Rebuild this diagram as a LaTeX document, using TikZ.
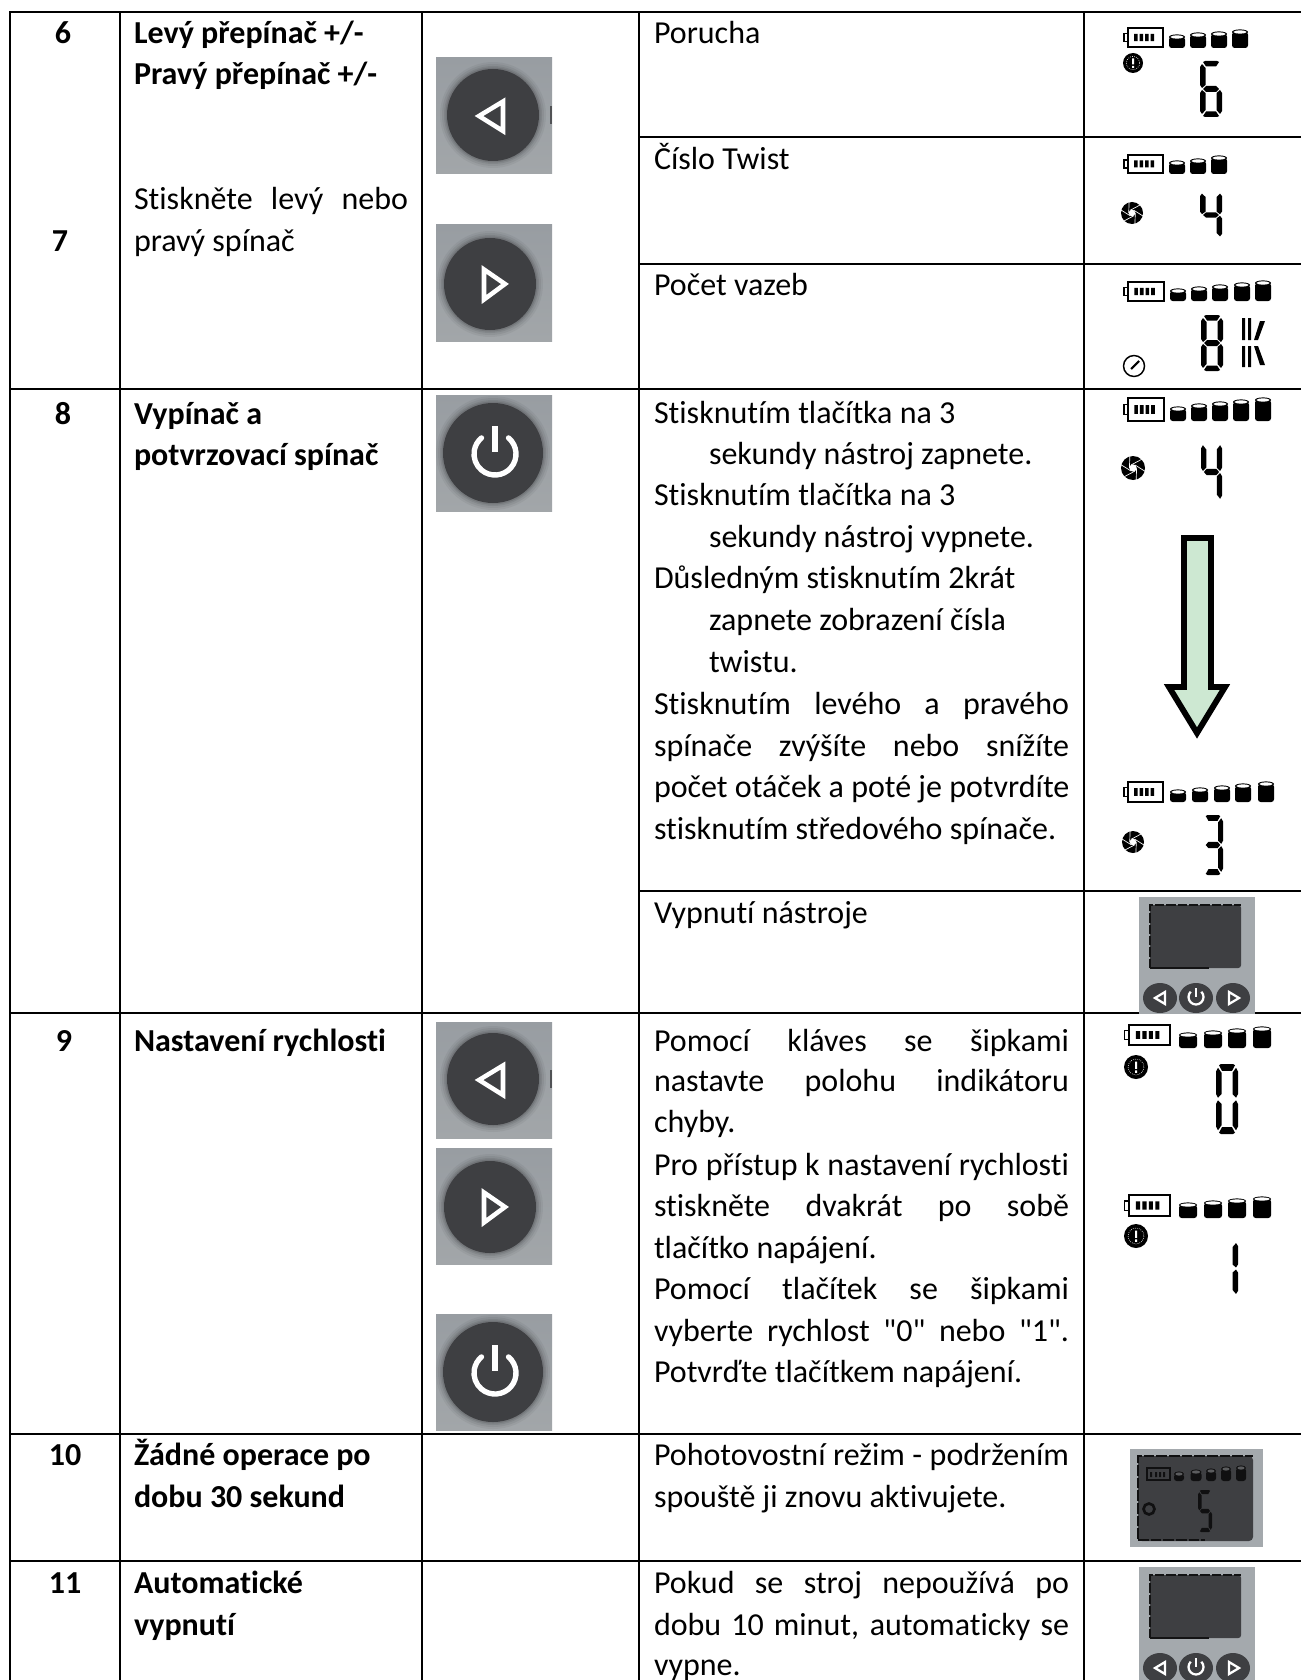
\documentclass[tikz,border=0pt]{standalone}
\usepackage{fontspec}
\setmainfont{Carlito}[Ligatures={TeXOff,NoCommon}]
\definecolor{btop}{HTML}{989DA2}
\definecolor{bbot}{HTML}{A2A6A9}
\definecolor{bdark}{HTML}{3E3F42}
\definecolor{pgray}{HTML}{A4A9AD}
\definecolor{arrowfill}{HTML}{CDE8D2}
\colorlet{lcdink}{black}
\colorlet{lcdpaper}{white}
\tikzset{
  txt/.style={anchor=base west,inner sep=0pt,outer sep=0pt,font=\fontsize{24}{28}\selectfont},
  btxt/.style={txt,font=\fontsize{24}{28}\selectfont\bfseries},
  numtxt/.style={anchor=base,inner sep=0pt,outer sep=0pt,font=\fontsize{24}{28}\selectfont\bfseries},
  grid/.style={line width=1.9pt,black,line cap=rect},
  bigarrow/.style={draw=black,line width=4.4pt,fill=arrowfill,miter limit=10},
}
\newcommand\tj[5]{\node[txt] (#1) at (#2,#3) {\hbox to \dimexpr#4pt*3/4\relax{\spaceskip=.226em plus 1fil\relax #5}};}
% LCD segments, local box 22 x 56
\newcommand\lsa{\fill[lcdink] (3,1)--(5,0)--(17,0)--(19,1)--(16,5.5)--(6,5.5)--cycle;}
\newcommand\lsb{\fill[lcdink] (16.5,7)--(20,3)--(22,6)--(22,24)--(20,27)--(16.5,24)--cycle;}
\newcommand\lsc{\fill[lcdink] (16.5,32)--(20,29)--(22,32)--(22,50)--(20,53)--(16.5,49)--cycle;}
\newcommand\lsd{\fill[lcdink] (6,50.5)--(16,50.5)--(19,55)--(17,56)--(5,56)--(3,55)--cycle;}
\newcommand\lse{\fill[lcdink] (0,32)--(2,29)--(5.5,32)--(5.5,49)--(2,53)--(0,50)--cycle;}
\newcommand\lsf{\fill[lcdink] (0,6)--(2,3)--(5.5,7)--(5.5,24)--(2,27)--(0,24)--cycle;}
\newcommand\lsg{\fill[lcdink] (3,28)--(6,25)--(16,25)--(19,28)--(16,31)--(6,31)--cycle;}
\newcommand\lcd[5]{\begin{scope}[shift={(#1,#2)},xscale=#3/22,yscale=#4/56]#5\end{scope}}
\newcommand\batt[4]{\begin{scope}[shift={(#1,#2)},xscale=#3/40,yscale=#4/18]
  \draw[lcdink,line width=1.1pt] (5,0) rectangle (40,18);
  \draw[lcdink,line width=1pt] (5,5)--(1,5)--(1,13)--(5,13);
  \fill[lcdink] (11,5.5) rectangle (14.5,12.5) (16.5,5.5) rectangle (20,12.5) (22,5.5) rectangle (25.5,12.5) (27.5,5.5) rectangle (31,12.5);
\end{scope}}
\newcommand\barrel[4]{\fill[lcdink,rounded corners=2pt] (#1-#3/2,#2-#4+2) rectangle (#1+#3/2,#2);
  \fill[lcdink] (#1,#2-#4+2) ellipse[x radius=#3/2,y radius=2.6];
  \fill[lcdpaper] (#1,#2-#4+2) ellipse[x radius=#3/2-1.4,y radius=1.6];}
\newcommand\alerticon[3]{\begin{scope}[shift={(#1,#2)}]
  \fill[lcdink] (0,0) circle[radius=#3];
  \draw[white,line width=.5pt,densely dotted] (0,0) circle[radius=#3*.66];
  \fill[white] (-1,-#3*.45) rectangle (1,#3*.15) (-1,#3*.28) rectangle (1,#3*.48);
\end{scope}}
\newcommand\aperture[3]{\begin{scope}[shift={(#1,#2)}]
  \fill[lcdink] (0,0) circle[radius=#3];
  \foreach \a in {0,60,...,300}{\draw[white,line width=.5pt] (\a:#3*.3)--(\a+75:#3*1.02);}
  \fill[white] (0,0) circle[radius=#3*.3];
\end{scope}}
% buttons
\newcommand\btnbase[4]{\shade[top color=btop,bottom color=bbot] (0,0) rectangle (116,116);
  \foreach \d/\o in {7/.08,5/.10,3/.14,1.5/.2}{\fill[bdark,opacity=\o] (#1,#2) circle[radius=#3+\d];}
  \fill[bdark] (#1,#2) circle[radius=#3];}
\newcommand\btnL[2]{\begin{scope}[shift={(#1,#2)}]\btnbase{57}{57}{46}{}
  \fill[bdark,opacity=.8] (114,48) rectangle (116,66);
  \draw[white,line width=3.4pt,line join=miter] (43,58)--(67,43.5)--(67,73)--cycle;\end{scope}}
\newcommand\btnR[2]{\begin{scope}[shift={(#1,#2)}]\btnbase{54}{59}{46}{}
  \draw[white,line width=3.4pt,line join=miter] (48,44.5)--(69,59)--(48,74.5)--cycle;\end{scope}}
\newcommand\btnP[2]{\begin{scope}[shift={(#1,#2)}]\btnbase{57}{58}{50}{}
  \draw[white,line width=4pt,line cap=round] (59,59) ++(-50:21) arc[start angle=-50,end angle=230,radius=21];
  \draw[white,line width=4.6pt] (59,31)--(59,57);\end{scope}}
\newcommand\panel[3]{\begin{scope}[shift={(#1,#2)}]
  \begin{scope}\clip (0,0) rectangle (116,#3);
  \fill[pgray] (0,0) rectangle (116,125);
  \fill[bdark,rounded corners=2pt] (11,8) rectangle (102,71);
  \draw[black!70!bdark,line width=1.1pt,dash pattern=on 7pt off 1.5pt] (11,71)--(11,8)--(102,8);
  \fill[black!70!bdark] (11,70) rectangle (70,71.5);
  \foreach \c in {21,57,94}{\fill[bdark] (\c,101) ellipse[x radius=17,y radius=15];}
  \draw[white,line width=1.7pt] (16,101)--(26,95)--(26,107)--cycle;
  \draw[white,line width=1.7pt] (90,95)--(90,107)--(100,101)--cycle;
  \draw[white,line width=1.7pt] (57,100) ++(-45:7.5) arc[start angle=-45,end angle=225,radius=7.5];
  \draw[white,line width=1.7pt] (57,91)--(57,100);
  \end{scope}
\end{scope}}
\begin{document}
\begin{tikzpicture}[x=.75pt,y=-.75pt]
\useasboundingbox (0,0) rectangle (1301,1680);
\fill[white] (0,0) rectangle (1301,1680);
% grid
\draw[grid] (10,12)--(1301,12);
\draw[grid] (10,12)--(10,1680) (120,12)--(120,1680) (422,12)--(422,1680) (639,12)--(639,1680) (1084,12)--(1084,1680);
\draw[grid] (639,137)--(1301,137) (639,264)--(1301,264);
\draw[grid] (10,389)--(1301,389) (639,891)--(1301,891);
\draw[grid] (10,1013)--(1301,1013) (10,1434)--(1301,1434) (10,1561)--(1301,1561);
% column 1
\node[numtxt] (n6) at (63,44) {6};
\node[numtxt] (n7) at (60,252) {7};
\node[numtxt] (n8) at (63,424) {8};
\node[numtxt] (n9) at (64,1051) {9};
\node[numtxt] (n10) at (65,1465) {10};
\node[numtxt] (n11) at (65,1593) {11};
% column 2
\node[btxt] (a1) at (134,44) {Levý přepínač +/-};
\node[btxt] (a2) at (134,85) {Pravý přepínač +/-};
\tj{a3}{134}{210}{274}{Stiskněte levý nebo}
\node[txt] (a4) at (134,252) {pravý spínač};
\node[btxt] (a5) at (134,424) {Vypínač a};
\node[btxt] (a6) at (134,465) {potvrzovací spínač};
\node[btxt] (a7) at (134,1051) {Nastavení rychlosti};
\node[btxt] (a8) at (134,1465) {Žádné operace po};
\node[btxt] (a9) at (134,1507) {dobu 30 sekund};
\node[btxt] (a10) at (134,1593) {Automatické};
\node[btxt] (a11) at (134,1635) {vypnutí};
% column 3
\btnL{436}{58}
\btnR{436}{225}
\btnP{436}{395}
\btnL{436}{1022}
\btnR{436}{1148}
\btnP{436}{1314}
% column 4
\node[txt] (b1) at (654,44) {Porucha};
\node[txt] (b2) at (654,170) {Číslo Twist};
\node[txt] (b3) at (654,296) {Počet vazeb};
\node[txt] (c1) at (654,423) {Stisknutím tlačítka na 3};
\node[txt] (c2) at (709,464) {sekundy nástroj zapnete.};
\node[txt] (c3) at (654,505) {Stisknutím tlačítka na 3};
\node[txt] (c4) at (709,547) {sekundy nástroj vypnete.};
\node[txt] (c5) at (654,588) {Důsledným stisknutím 2krát};
\node[txt] (c6) at (709,630) {zapnete zobrazení čísla};
\node[txt] (c7) at (709,672) {twistu.};
\tj{c8}{654}{714}{415}{Stisknutím levého a pravého}
\tj{c9}{654}{756}{415}{spínače zvýšíte nebo snížíte}
\tj{c10}{654}{797}{415}{počet otáček a poté je potvrdíte}
\node[txt] (c11) at (654,839) {stisknutím středového spínače.};
\node[txt] (c12) at (654,923) {Vypnutí nástroje};
\tj{d1}{654}{1051}{415}{Pomocí kláves se šipkami}
\tj{d2}{654}{1091}{415}{nastavte polohu indikátoru}
\node[txt] (d3) at (654,1132) {chyby.};
\tj{d4}{654}{1175}{415}{Pro přístup k nastavení rychlosti}
\tj{d5}{654}{1216}{415}{stiskněte dvakrát po sobě}
\node[txt] (d6) at (654,1258) {tlačítko napájení.};
\tj{d7}{654}{1299}{415}{Pomocí tlačítek se šipkami}
\tj{d8}{654}{1341}{415}{vyberte rychlost "0" nebo "1".}
\node[txt] (d9) at (654,1382) {Potvrďte tlačítkem napájení.};
\tj{e1}{654}{1465}{415}{Pohotovostní režim - podržením}
\node[txt] (e2) at (654,1507) {spouště ji znovu aktivujete.};
\tj{f1}{654}{1593}{415}{Pokud se stroj nepoužívá po}
\tj{f2}{654}{1635}{415}{dobu 10 minut, automaticky se}
\node[txt] (f3) at (654,1675) {vypne.};
% LCD 1
\batt{1123}{28}{40}{19}
\barrel{1177}{48}{16}{13}\barrel{1198}{48}{16}{15}\barrel{1219}{48}{16}{16}\barrel{1240}{48}{16}{18}
\alerticon{1133}{63}{10}
\lcd{1200}{61}{22}{56}{\lsa\lsf\lsg\lse\lsc\lsd}
% LCD 2
\batt{1123}{155}{40}{18}
\barrel{1177}{174}{16}{13}\barrel{1198}{174}{16}{15}\barrel{1219}{174}{16}{18}
\aperture{1132}{213}{11}
\lcd{1200}{191}{22}{48}{\lsf\lsb\lsg\lsc}
% LCD 3
\batt{1123}{282}{41}{19}
\barrel{1178}{301}{16}{12}\barrel{1199}{301}{16}{14}\barrel{1220}{301}{16}{16}\barrel{1242}{301}{16}{18}\barrel{1263}{301}{16}{20}
\draw[black,line width=1.1pt] (1134,366) circle[radius=10.5];
\draw[black,line width=1.6pt] (1131,369)--(1139,361);
\lcd{1201}{315}{22}{56}{\lsa\lsb\lsc\lsd\lse\lsf\lsg}
\fill (1242,318) rectangle (1245,340) (1242,346) rectangle (1245,367);
\fill (1248,318) rectangle (1251,340) (1248,346) rectangle (1251,367);
\fill (1260,321)--(1265,321)--(1258,340)--(1254,340)--cycle;
\fill (1254,346)--(1258,346)--(1265,365)--(1260,365)--cycle;
% LCD 4
\batt{1123}{398}{41}{23}
\barrel{1178}{421}{16}{14}\barrel{1199}{421}{16}{17}\barrel{1220}{421}{16}{19}\barrel{1241}{421}{16}{21}\barrel{1263}{421}{16}{23}
\aperture{1133}{468}{12}
\lcd{1201}{442}{21}{60}{\lsf\lsb\lsg\lsc}
% arrow
\draw[bigarrow] (1184,538)--(1211,538)--(1211,687)--(1225,687)--(1197,733)--(1169,687)--(1184,687)--cycle;
% LCD 5
\batt{1123}{782}{40}{20}
\barrel{1178}{802}{16}{12}\barrel{1200}{802}{16}{14}\barrel{1222}{802}{16}{16}\barrel{1243}{802}{16}{18}\barrel{1266}{802}{16}{20}
\aperture{1133}{842}{11}
\lcd{1203}{815}{20}{60}{\lsa\lsb\lsg\lsc\lsd}
% panels
\panel{1139}{897}{116}
\panel{1139}{1567}{113}
% LCD 6
\batt{1123}{1025}{47}{20}
\barrel{1188}{1048}{18}{15}\barrel{1213}{1048}{18}{17}\barrel{1237}{1048}{18}{19}\barrel{1262}{1048}{18}{21}
\alerticon{1136}{1067}{12}
\lcd{1216}{1064}{22}{70}{\lsa\lsb\lsc\lsd\lse\lsf}
% LCD 7
\batt{1123}{1195}{47}{21}
\barrel{1188}{1218}{18}{15}\barrel{1213}{1218}{18}{17}\barrel{1237}{1218}{18}{19}\barrel{1262}{1218}{18}{21}
\alerticon{1136}{1236}{12}
\lcd{1216}{1240}{22}{57}{\lsb\lsc}
% standby panel
\begin{scope}[shift={(1130,1449)}]
  \fill[pgray] (0,0) rectangle (133,98);
  \fill[bdark,rounded corners=3pt] (8,7) rectangle (123,92);
  \draw[black!75!bdark,line width=1.2pt,dash pattern=on 8pt off 1.5pt] (8,90)--(8,7)--(123,7);
  \draw[black!75!bdark,line width=1.2pt,dash pattern=on 8pt off 1.5pt] (8,91)--(75,91);
  \colorlet{lcdink}{black!75!bdark}
  \colorlet{lcdpaper}{bdark!85!white}
  \draw[lcdink,line width=.8pt] (17,19) rectangle (40,31);
  \fill[lcdink] (20,23) rectangle (22,28) (25,23) rectangle (27,28) (29,23) rectangle (31,28) (33,23) rectangle (35,28);
  \barrel{49}{32}{10}{9}\barrel{66}{32}{11}{11}\barrel{81}{32}{10}{12}\barrel{96}{32}{10}{14}\barrel{111}{32}{10}{15}
  \draw[lcdink,line width=2pt] (19,60) circle[radius=5.5];
  \lcd{68}{41}{14}{42}{\lsa\lsf\lsg\lsc\lsd}
\end{scope}
\end{tikzpicture}
\end{document}
